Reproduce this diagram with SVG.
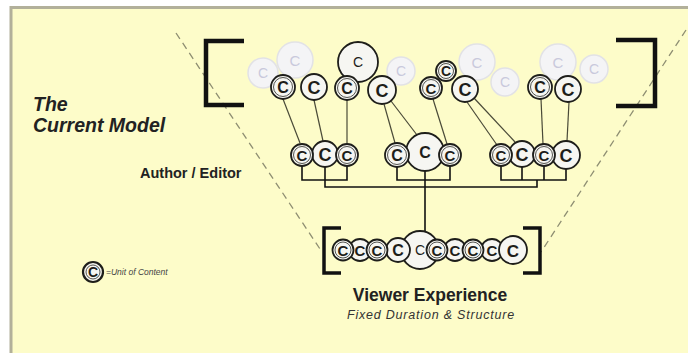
<svg xmlns="http://www.w3.org/2000/svg" width="688" height="353" viewBox="0 0 688 353">
<style>
.o{fill:#f6f6f2;stroke:#1e1e1a;stroke-width:1.8}
.i{fill:none;stroke:#2a2a24;stroke-width:0.8}
.t{font-family:"Liberation Sans",Arial,sans-serif;font-weight:bold;fill:#1e1e1a;text-anchor:middle}
.f{fill:#f4f4f6;stroke:#e2e2e6;stroke-width:1.5}
.ft{font-family:"Liberation Sans",Arial,sans-serif;fill:#c9c9dc;text-anchor:middle}
.ln{fill:none;stroke:#4a4a38;stroke-width:1.2}
.br{fill:none;stroke:#111;stroke-width:1.6}
.bk{fill:none;stroke:#111;stroke-width:4.5}
.ds{fill:none;stroke:#8e8e72;stroke-width:1.3;stroke-dasharray:7 5}
.lab{font-family:"Liberation Sans",Arial,sans-serif;font-weight:bold;fill:#222}
</style>
<rect width="688" height="353" fill="#ffffff"/>
<rect x="11" y="7.5" width="690" height="350" fill="#fdfcc9" stroke="#b2b09a" stroke-width="3"/>

<g id="guides">
<path class="ds" d="M176,33 L322,252"/>
<path class="ds" d="M686,30 L541,252"/>
</g>

<g id="bracket-top-left"><path class="bk" d="M244,41 H206 V105 H244"/></g>
<g id="bracket-top-right"><path class="bk" d="M616,40 H655 V106 H616"/></g>
<g id="bracket-bottom-left"><path class="bk" style="stroke-width:3.5" d="M341,228 H324 V273 H341"/></g>
<g id="bracket-bottom-right"><path class="bk" style="stroke-width:3.5" d="M523,228 H540 V273 H523"/></g>

<g id="connectors">
<path class="ln" d="M283,99 L300,143"/>
<path class="ln" d="M314,100 L323,141"/>
<path class="ln" d="M347,100 L347,143"/>
<path class="ln" d="M384,104 L395,143"/>
<path class="ln" d="M391,101 L417,135"/>
<path class="ln" d="M433,99 L447,144"/>
<path class="ln" d="M467,102 L497,145"/>
<path class="ln" d="M474,98 L515,142"/>
<path class="ln" d="M541,99 L543,144"/>
<path class="ln" d="M569,102 L567,141"/>
<path class="br" d="M302,165 V180 H347 V165"/>
<path class="br" d="M325,166 V187 H537 V180"/>
<path class="br" d="M397,166 V180 H450 V165"/>
<path class="br" d="M425,171 V231"/>
<path class="br" d="M501,165 V180 H566 V168"/>
<path class="br" d="M522,166 V180 M544,165 V180"/>
</g>

<g id="faded">
<g id="f1"><circle class="f" cx="263" cy="73" r="15"/><text class="ft" x="263" y="78" font-size="14">C</text></g>
<g id="f2"><circle class="f" cx="295" cy="60" r="18"/><text class="ft" x="295" y="65.5" font-size="15">C</text></g>
<g id="f3"><circle class="f" cx="401" cy="71" r="14"/><text class="ft" x="401" y="76" font-size="14">C</text></g>
<g id="f4"><circle class="f" cx="477" cy="62" r="18"/><text class="ft" x="477" y="67.5" font-size="15">C</text></g>
<g id="f5"><circle class="f" cx="505" cy="82" r="14"/><text class="ft" x="505" y="87" font-size="14">C</text></g>
<g id="f6"><circle class="f" cx="558" cy="62" r="18"/><text class="ft" x="558" y="67.5" font-size="15">C</text></g>
<g id="f7"><circle class="f" cx="594" cy="69" r="14"/><text class="ft" x="594" y="74" font-size="14">C</text></g>
</g>

<g id="top-row">
<g id="t6"><circle class="o" cx="358" cy="62" r="20"/><text class="t" x="358" y="67" font-size="14" style="font-weight:normal">C</text></g>
<g id="t1"><circle class="o" cx="283" cy="87" r="12"/><circle class="i" cx="283" cy="87" r="9.5"/><text class="t" x="283" y="93" font-size="16">C</text></g>
<g id="t2"><circle class="o" cx="314" cy="87" r="13"/><text class="t" x="314" y="93.5" font-size="18">C</text></g>
<g id="t3"><circle class="o" cx="347" cy="88" r="12"/><circle class="i" cx="347" cy="88" r="9.5"/><text class="t" x="347" y="94" font-size="16">C</text></g>
<g id="t4"><circle class="o" cx="382" cy="90" r="14"/><text class="t" x="382" y="96.5" font-size="18">C</text></g>
<g id="t5"><circle class="o" cx="431" cy="88" r="11"/><circle class="i" cx="431" cy="88" r="8.5"/><text class="t" x="431" y="93.5" font-size="15">C</text></g>
<g id="t8"><circle class="o" cx="465" cy="89" r="13"/><text class="t" x="465" y="95.5" font-size="18">C</text></g>
<g id="t7"><circle class="o" cx="446" cy="71" r="10"/><circle class="i" cx="446" cy="71" r="7.5"/><text class="t" x="446" y="76" font-size="14">C</text></g>
<g id="t9"><circle class="o" cx="540" cy="87" r="12"/><circle class="i" cx="540" cy="87" r="9.5"/><text class="t" x="540" y="93" font-size="16">C</text></g>
<g id="t10"><circle class="o" cx="568" cy="89" r="13"/><text class="t" x="568" y="95.5" font-size="18">C</text></g>
</g>

<g id="middle-row">
<g id="m2"><circle class="o" cx="325" cy="154" r="13"/><text class="t" x="325" y="160.5" font-size="18">C</text></g>
<g id="m1"><circle class="o" cx="302" cy="155" r="11"/><circle class="i" cx="302" cy="155" r="8.5"/><text class="t" x="302" y="160.5" font-size="15">C</text></g>
<g id="m3"><circle class="o" cx="347" cy="155" r="11"/><circle class="i" cx="347" cy="155" r="8.5"/><text class="t" x="347" y="160.5" font-size="15">C</text></g>
<g id="m5"><circle class="o" cx="425" cy="152" r="19"/><text class="t" x="425" y="158" font-size="16">C</text></g>
<g id="m4"><circle class="o" cx="397" cy="155" r="12"/><circle class="i" cx="397" cy="155" r="9.5"/><text class="t" x="397" y="161" font-size="16">C</text></g>
<g id="m6"><circle class="o" cx="450" cy="155" r="11"/><circle class="i" cx="450" cy="155" r="8.5"/><text class="t" x="450" y="160.5" font-size="15">C</text></g>
<g id="m8"><circle class="o" cx="522" cy="154" r="13"/><text class="t" x="522" y="160.5" font-size="18">C</text></g>
<g id="m10"><circle class="o" cx="566" cy="155" r="14"/><text class="t" x="566" y="161.5" font-size="18">C</text></g>
<g id="m7"><circle class="o" cx="501" cy="155" r="11"/><circle class="i" cx="501" cy="155" r="8.5"/><text class="t" x="501" y="160.5" font-size="15">C</text></g>
<g id="m9"><circle class="o" cx="544" cy="155" r="11"/><circle class="i" cx="544" cy="155" r="8.5"/><text class="t" x="544" y="160.5" font-size="15">C</text></g>
</g>

<g id="bottom-row">
<g id="b5"><circle class="o" cx="420" cy="250" r="19"/><text class="t" x="420" y="255" font-size="14" style="font-weight:normal">C</text></g>
<g id="b2"><circle class="o" cx="360" cy="250" r="11"/><text class="t" x="360" y="255.5" font-size="15">C</text></g>
<g id="b4"><circle class="o" cx="398" cy="250" r="12"/><text class="t" x="398" y="256" font-size="16">C</text></g>
<g id="b7"><circle class="o" cx="455" cy="250" r="11"/><text class="t" x="455" y="255.5" font-size="15">C</text></g>
<g id="b9"><circle class="o" cx="492" cy="250" r="11"/><text class="t" x="492" y="255.5" font-size="15">C</text></g>
<g id="b10"><circle class="o" cx="513" cy="250" r="14"/><text class="t" x="513" y="256.5" font-size="17">C</text></g>
<g id="b1"><circle class="o" cx="343" cy="250" r="10.5"/><circle class="i" cx="343" cy="250" r="8"/><text class="t" x="343" y="255.5" font-size="15">C</text></g>
<g id="b3"><circle class="o" cx="377" cy="250" r="10.5"/><circle class="i" cx="377" cy="250" r="8"/><text class="t" x="377" y="255.5" font-size="15">C</text></g>
<g id="b6"><circle class="o" cx="437" cy="250" r="10.5"/><circle class="i" cx="437" cy="250" r="8"/><text class="t" x="437" y="255.5" font-size="15">C</text></g>
<g id="b8"><circle class="o" cx="473" cy="250" r="10.5"/><circle class="i" cx="473" cy="250" r="8"/><text class="t" x="473" y="255.5" font-size="15">C</text></g>
</g>

<g id="title">
<text class="lab" x="33" y="111" font-size="19.5" font-style="italic" fill="#111">The</text>
<text class="lab" x="33" y="132" font-size="19.5" font-style="italic" fill="#111">Current Model</text>
</g>
<g id="author-label"><text class="lab" x="140" y="178" font-size="14.5">Author / Editor</text></g>
<g id="viewer-label">
<text class="lab" x="430" y="301" font-size="17.5" text-anchor="middle">Viewer Experience</text>
<text x="431" y="319" font-family="'Liberation Sans',Arial,sans-serif" font-style="italic" font-size="12.5" letter-spacing="0.8" fill="#333" text-anchor="middle">Fixed Duration &amp; Structure</text>
</g>
<g id="legend">
<circle class="o" cx="93" cy="272" r="10" style="stroke-width:2.2"/><circle class="i" cx="93" cy="272" r="7"/><text class="t" x="93" y="277" font-size="14">C</text>
<text x="106" y="275" font-family="'Liberation Sans',Arial,sans-serif" font-style="italic" font-size="8.5" fill="#444">=Unit of Content</text>
</g>
</svg>
